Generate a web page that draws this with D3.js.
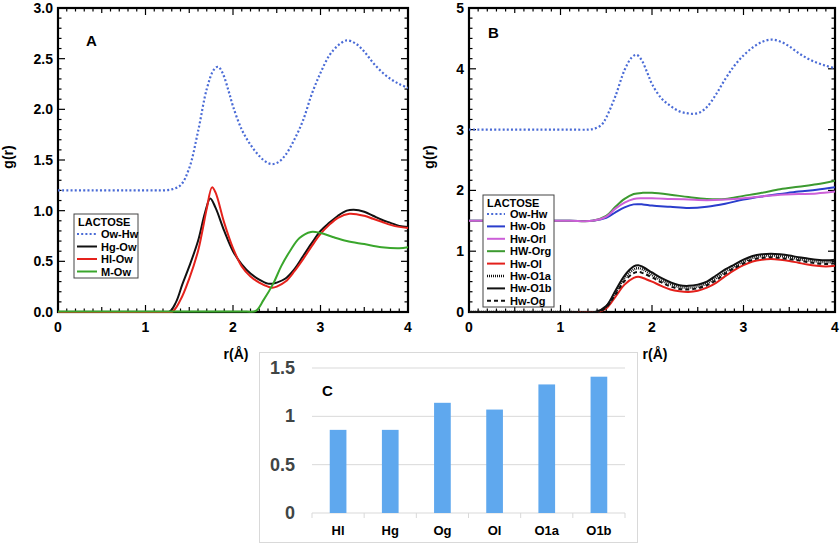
<!DOCTYPE html>
<html><head><meta charset="utf-8">
<script src="https://cdn.jsdelivr.net/npm/d3@7"></script>
<style>body{margin:0;background:#fff}svg{display:block}text{font-family:"Liberation Sans",Arial,sans-serif;font-weight:bold}</style>
</head><body><svg id="c" width="840" height="545"></svg>
<script>
// ---------- Panel A data: [r (Å), g(r)] ----------
const A_OwHw = [[0,1.2],[0.4,1.2],[0.8,1.2],[1.1,1.2],[1.2,1.2],[1.3,1.21],[1.4,1.25],[1.5,1.42],[1.6,1.78],[1.7,2.2],[1.78,2.39],[1.83,2.42],[1.88,2.36],[1.95,2.18],[2.0,2.03],[2.1,1.8],[2.2,1.65],[2.3,1.54],[2.38,1.48],[2.45,1.46],[2.52,1.48],[2.6,1.55],[2.7,1.7],[2.8,1.89],[2.9,2.15],[3.0,2.36],[3.1,2.53],[3.2,2.63],[3.3,2.68],[3.4,2.65],[3.5,2.57],[3.6,2.46],[3.7,2.37],[3.8,2.3],[3.9,2.25],[4.0,2.21]];
const A_HgOw = [[0,0],[0.4,0],[0.8,0],[1.1,0],[1.27,0],[1.35,0.1],[1.42,0.27],[1.5,0.45],[1.6,0.7],[1.68,0.98],[1.74,1.12],[1.8,1.03],[1.9,0.8],[2.0,0.6],[2.1,0.47],[2.2,0.38],[2.3,0.32],[2.4,0.28],[2.45,0.28],[2.5,0.29],[2.6,0.33],[2.7,0.42],[2.8,0.55],[2.9,0.68],[3.0,0.8],[3.1,0.88],[3.2,0.95],[3.3,1.0],[3.38,1.01],[3.5,0.99],[3.6,0.95],[3.7,0.91],[3.8,0.88],[3.9,0.85],[4.0,0.84]];
const A_HlOw = [[0,0],[0.4,0],[0.8,0],[1.1,0],[1.3,0],[1.4,0.12],[1.5,0.33],[1.6,0.6],[1.65,0.8],[1.7,1.02],[1.76,1.23],[1.8,1.18],[1.9,0.88],[2.0,0.63],[2.1,0.45],[2.2,0.35],[2.3,0.29],[2.4,0.25],[2.45,0.24],[2.5,0.25],[2.6,0.3],[2.7,0.4],[2.8,0.52],[2.9,0.65],[3.0,0.77],[3.1,0.86],[3.2,0.93],[3.33,0.97],[3.5,0.95],[3.6,0.92],[3.7,0.89],[3.8,0.86],[3.9,0.84],[4.0,0.83]];
const A_MOw = [[0,0.005],[0.5,0.005],[1.0,0.005],[1.5,0.005],[1.9,0.005],[2.15,0.005],[2.26,0.01],[2.35,0.12],[2.46,0.28],[2.55,0.45],[2.65,0.6],[2.76,0.73],[2.89,0.79],[3.0,0.78],[3.14,0.74],[3.3,0.7],[3.5,0.67],[3.7,0.64],[3.9,0.63],[4.0,0.64]];
// ---------- Panel B data ----------
const B_OwHw = [[0,3.0],[0.4,3.0],[0.8,3.0],[1.1,3.0],[1.3,3.0],[1.38,3.02],[1.45,3.08],[1.5,3.2],[1.6,3.55],[1.7,3.98],[1.78,4.19],[1.83,4.23],[1.88,4.16],[1.95,3.93],[2.0,3.75],[2.1,3.52],[2.2,3.39],[2.3,3.3],[2.38,3.27],[2.45,3.26],[2.52,3.28],[2.6,3.37],[2.7,3.58],[2.8,3.83],[2.9,4.05],[3.0,4.22],[3.1,4.35],[3.2,4.44],[3.3,4.48],[3.4,4.45],[3.5,4.37],[3.6,4.26],[3.7,4.17],[3.8,4.1],[3.9,4.05],[4.0,4.01]];
const B_HwOb = [[0,1.5],[0.4,1.5],[0.8,1.5],[1.1,1.5],[1.35,1.5],[1.5,1.55],[1.6,1.64],[1.7,1.72],[1.8,1.77],[1.9,1.77],[2.0,1.75],[2.2,1.73],[2.4,1.71],[2.6,1.73],[2.8,1.78],[3.0,1.85],[3.2,1.9],[3.4,1.94],[3.6,1.98],[3.8,2.01],[4.0,2.05]];
const B_HwOrl = [[0,1.5],[0.4,1.5],[0.8,1.5],[1.1,1.5],[1.35,1.5],[1.5,1.57],[1.6,1.7],[1.7,1.8],[1.8,1.86],[1.9,1.87],[2.0,1.87],[2.2,1.86],[2.4,1.85],[2.6,1.84],[2.8,1.85],[3.0,1.87],[3.2,1.9],[3.4,1.93],[3.6,1.94],[3.8,1.95],[4.0,1.98]];
const B_HwOrg = [[0,1.5],[0.4,1.5],[0.8,1.5],[1.1,1.5],[1.35,1.5],[1.5,1.58],[1.6,1.73],[1.7,1.86],[1.8,1.94],[1.9,1.96],[2.0,1.96],[2.2,1.93],[2.4,1.89],[2.6,1.86],[2.8,1.86],[3.0,1.91],[3.2,1.96],[3.4,2.02],[3.6,2.06],[3.8,2.1],[4.0,2.16]];
const B_HwOl = [[0,0],[0.4,0],[0.8,0],[1.1,0],[1.4,0],[1.5,0.06],[1.6,0.25],[1.7,0.45],[1.8,0.56],[1.85,0.58],[1.9,0.56],[2.0,0.5],[2.1,0.43],[2.2,0.37],[2.3,0.34],[2.4,0.33],[2.5,0.35],[2.6,0.4],[2.7,0.48],[2.8,0.59],[2.9,0.69],[3.0,0.77],[3.1,0.83],[3.2,0.86],[3.3,0.87],[3.4,0.86],[3.5,0.84],[3.6,0.81],[3.7,0.78],[3.8,0.76],[3.9,0.75],[4.0,0.76]];
const B_HwO1a = [[0,0],[0.4,0],[0.8,0],[1.1,0],[1.4,0],[1.5,0.09],[1.6,0.32],[1.7,0.56],[1.8,0.7],[1.85,0.72],[1.9,0.7],[2.0,0.61],[2.1,0.52],[2.2,0.46],[2.3,0.41],[2.4,0.4],[2.5,0.42],[2.6,0.47],[2.7,0.56],[2.8,0.66],[2.9,0.75],[3.0,0.83],[3.1,0.89],[3.2,0.92],[3.3,0.93],[3.4,0.92],[3.5,0.9],[3.6,0.87],[3.7,0.85],[3.8,0.83],[3.9,0.82],[4.0,0.82]];
const B_HwO1b = [[0,0],[0.4,0],[0.8,0],[1.1,0],[1.38,0],[1.5,0.1],[1.6,0.35],[1.7,0.6],[1.8,0.75],[1.85,0.77],[1.9,0.74],[2.0,0.65],[2.1,0.56],[2.2,0.49],[2.3,0.44],[2.4,0.43],[2.5,0.45],[2.6,0.5],[2.7,0.6],[2.8,0.7],[2.9,0.78],[3.0,0.86],[3.1,0.92],[3.2,0.95],[3.3,0.96],[3.4,0.95],[3.5,0.93],[3.6,0.9],[3.7,0.88],[3.8,0.86],[3.9,0.85],[4.0,0.86]];
const B_HwOg = [[0,0],[0.4,0],[0.8,0],[1.1,0],[1.4,0],[1.5,0.08],[1.6,0.29],[1.7,0.51],[1.8,0.64],[1.85,0.66],[1.9,0.64],[2.0,0.57],[2.1,0.49],[2.2,0.42],[2.3,0.38],[2.4,0.37],[2.5,0.39],[2.6,0.44],[2.7,0.52],[2.8,0.63],[2.9,0.72],[3.0,0.8],[3.1,0.86],[3.2,0.89],[3.3,0.9],[3.4,0.89],[3.5,0.87],[3.6,0.85],[3.7,0.82],[3.8,0.8],[3.9,0.79],[4.0,0.8]];
// ---------- Panel C data ----------
const C_categories = ["Hl","Hg","Og","Ol","O1a","O1b"];
const C_values = [0.86,0.86,1.14,1.07,1.33,1.41];
const C_ticks = [0,0.5,1,1.5];
const xTicks = [0,1,2,3,4];
const A_yTicks = [0,0.5,1.0,1.5,2.0,2.5,3.0];
const B_yTicks = [0,1,2,3,4,5];

const svg = d3.select("#c");
svg.append("rect").attr("width",840).attr("height",545).attr("fill","#fff");

function rdPanel(o){
  const x = d3.scaleLinear().domain([0,4]).range([o.x0,o.x1]);
  const y = d3.scaleLinear().domain([0,o.ymax]).range([o.y0,o.y1]);
  const g = svg.append("g");
  const cid = "clip"+o.id;
  g.append("clipPath").attr("id",cid).append("rect").attr("x",o.x0).attr("y",o.y1-1).attr("width",o.x1-o.x0).attr("height",o.y0-o.y1+2);
  const tg = g.append("g").attr("stroke","#000").attr("stroke-width",1.2);
  d3.range(0,40.5,1).forEach(i=>{
    const v=i/10, len = i%10===0?7:(i%5===0?5:3.5), px=x(v);
    tg.append("line").attr("x1",px).attr("x2",px).attr("y1",o.y0).attr("y2",o.y0-len);
    tg.append("line").attr("x1",px).attr("x2",px).attr("y1",o.y1).attr("y2",o.y1+len);
  });
  const nMinor = Math.round(o.ymax/o.yMinor);
  d3.range(0,nMinor+0.5,1).forEach(i=>{
    const v=i*o.yMinor; const major = Math.abs(v/o.yMajor-Math.round(v/o.yMajor))<1e-6;
    const len = major?7:3.5, py=y(v);
    tg.append("line").attr("x1",o.x0).attr("x2",o.x0+len).attr("y1",py).attr("y2",py);
    tg.append("line").attr("x1",o.x1).attr("x2",o.x1-len).attr("y1",py).attr("y2",py);
  });
  g.append("rect").attr("x",o.x0).attr("y",o.y1).attr("width",o.x1-o.x0).attr("height",o.y0-o.y1)
    .attr("fill","none").attr("stroke","#000").attr("stroke-width",2.2);
  const line = d3.line().x(d=>x(d[0])).y(d=>y(d[1])).curve(d3.curveCatmullRom.alpha(0.5));
  const pl = g.append("g").attr("clip-path",`url(#${cid})`);
  (o.drawOrder||o.series.map((s,i)=>i)).forEach(i=>{
    const s=o.series[i];
    pl.append("path").attr("d",line(s.data)).attr("fill","none").attr("stroke",s.color)
      .attr("stroke-width",s.w||2).attr("stroke-dasharray",s.dash||null).attr("stroke-linejoin","round");
  });
  xTicks.forEach(v=>g.append("text").attr("x",x(v)).attr("y",o.y0+20).attr("text-anchor","middle").attr("font-size",14).text(v));
  o.yTicks.forEach(v=>g.append("text").attr("x",o.x0-5).attr("y",y(v)+5).attr("text-anchor","end").attr("font-size",14).text(o.yfmt(v)));
  g.append("text").attr("transform",`translate(${o.ylabX},157) rotate(-90)`).attr("text-anchor","middle").attr("font-size",14).text("g(r)");
  g.append("text").attr("x",o.xlabX).attr("y",359).attr("text-anchor","middle").attr("font-size",14).text("r(Å)");
  g.append("text").attr("x",o.letter[0]).attr("y",o.letter[1]).attr("font-size",15).text(o.id);
  const L=o.legend;
  g.append("rect").attr("x",L.x).attr("y",L.y).attr("width",L.w).attr("height",L.h).attr("fill","#fff").attr("stroke","#444").attr("stroke-width",1);
  g.append("text").attr("x",L.x+4).attr("y",L.y+12).attr("font-size",11).text("LACTOSE");
  o.series.forEach((s,i)=>{
    const yy=L.first+i*L.dy;
    g.append("line").attr("x1",L.lx0).attr("x2",L.lx1).attr("y1",yy).attr("y2",yy).attr("stroke",s.color).attr("stroke-width",s.w||2).attr("stroke-dasharray",s.dash||null);
    g.append("text").attr("x",L.tx).attr("y",yy+4).attr("font-size",11).text(s.name);
  });
}

rdPanel({id:"A",x0:58,x1:408,y0:312,y1:8,ymax:3,yMinor:0.1,yMajor:0.5,yTicks:A_yTicks,yfmt:d3.format(".1f"),
  ylabX:13,xlabX:236,letter:[86,46],
  legend:{x:74,y:214,w:64,h:64,first:234,dy:12.5,lx0:77,lx1:97,tx:101},
  series:[
    {name:"Ow-Hw",data:A_OwHw,color:"#4a6bd6",dash:"2,2.2",w:2.2},
    {name:"Hg-Ow",data:A_HgOw,color:"#111"},
    {name:"Hl-Ow",data:A_HlOw,color:"#e5221c"},
    {name:"M-Ow",data:A_MOw,color:"#3aa62c"}]});

rdPanel({id:"B",x0:469,x1:835,y0:312,y1:8,ymax:5,yMinor:1/6,yMajor:1,yTicks:B_yTicks,yfmt:d3.format("d"),
  ylabX:434,xlabX:655,letter:[488,38],
  legend:{x:483,y:195,w:71,h:112,first:214,dy:12.4,lx0:487,lx1:505,tx:510},
  drawOrder:[0,1,3,2,4,5,7,6],
  series:[
    {name:"Ow-Hw",data:B_OwHw,color:"#4a6bd6",dash:"2,2.2",w:2.2},
    {name:"Hw-Ob",data:B_HwOb,color:"#2a3dcc"},
    {name:"Hw-Orl",data:B_HwOrl,color:"#cc5fd8"},
    {name:"HW-Org",data:B_HwOrg,color:"#3c9a30"},
    {name:"Hw-Ol",data:B_HwOl,color:"#e3201b"},
    {name:"Hw-O1a",data:B_HwO1a,color:"#111",dash:"1,1",w:2.4},
    {name:"Hw-O1b",data:B_HwO1b,color:"#111"},
    {name:"Hw-Og",data:B_HwOg,color:"#111",dash:"4,3"}]});

// ---------- Panel C ----------
const cg = svg.append("g");
cg.append("rect").attr("x",259.5).attr("y",352.5).attr("width",378).attr("height",190).attr("fill","#fff").attr("stroke","#d9d9d9").attr("stroke-width",1);
const cx = d3.scaleBand().domain(C_categories).range([312,625]).paddingInner(0.68).paddingOuter(0.34);
const cy = d3.scaleLinear().domain([0,1.5]).range([513,368]);
C_ticks.forEach(v=>{
  cg.append("line").attr("x1",312).attr("x2",625).attr("y1",cy(v)).attr("y2",cy(v)).attr("stroke","#d9d9d9").attr("stroke-width",1);
  cg.append("text").attr("x",295).attr("y",cy(v)+6).attr("text-anchor","end").attr("font-size",18).attr("fill","#3f4545").text(v);
});
const step = (625-312)/C_categories.length;
d3.range(0,C_categories.length+1).forEach(i=>{
  cg.append("line").attr("x1",312+i*step).attr("x2",312+i*step).attr("y1",513).attr("y2",518).attr("stroke","#d9d9d9");
});
cg.selectAll("rect.bar").data(C_values).join("rect").attr("class","bar")
  .attr("x",(d,i)=>cx(C_categories[i])).attr("width",cx.bandwidth())
  .attr("y",d=>cy(d)).attr("height",d=>cy(0)-cy(d)).attr("fill","#5fa8ee");
C_categories.forEach(c=>cg.append("text").attr("x",cx(c)+cx.bandwidth()/2).attr("y",535).attr("text-anchor","middle").attr("font-size",13).text(c));
cg.append("text").attr("x",322).attr("y",396).attr("font-size",15).text("C");
</script></body></html>
